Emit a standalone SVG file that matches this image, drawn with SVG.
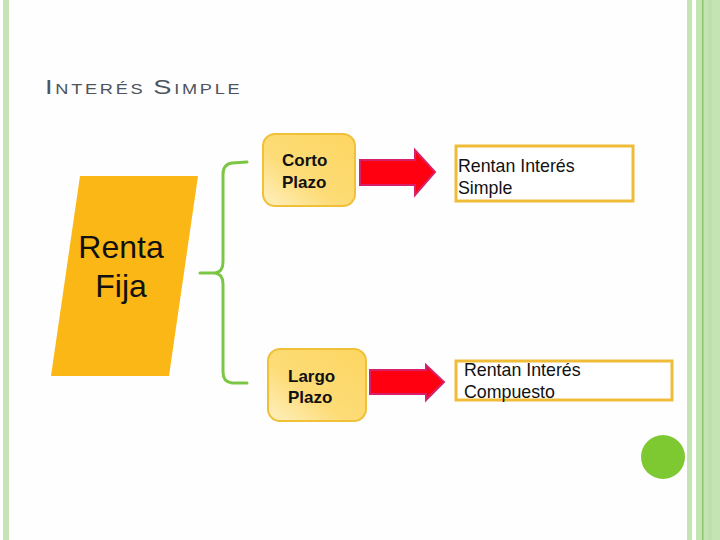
<svg xmlns="http://www.w3.org/2000/svg" width="720" height="540" viewBox="0 0 720 540">
<defs>
<linearGradient id="boxg" x1="1" y1="0" x2="0" y2="1">
<stop offset="0" stop-color="#fdd660"/>
<stop offset="0.6" stop-color="#fddc78"/>
<stop offset="1" stop-color="#fef0c0"/>
</linearGradient>
<style>
.plazo{fill:url(#boxg);stroke:#f0c038;stroke-width:2}
.pt{font-family:"Liberation Sans",Arial,sans-serif;font-weight:bold;font-size:17px;fill:#111}
.res{fill:#fff;stroke:#f0bc38;stroke-width:3}
.rt{font-family:"Liberation Sans",Arial,sans-serif;font-size:17.8px;fill:#111}
.arrow{fill:#ff0010;stroke:#d8206a;stroke-width:2;stroke-linejoin:miter}
.brace{fill:none;stroke:#7cc645;stroke-width:3;stroke-linecap:round;stroke-linejoin:round}
</style>
</defs>
<rect width="720" height="540" fill="#fefefe"/>
<g id="frame">
<rect x="3" y="0" width="6" height="540" fill="#c4e4b4"/>
<rect x="687" y="0" width="5" height="540" fill="#c4e4b4"/>
<rect x="696" y="0" width="24" height="540" fill="#c4e4b4"/>
<rect x="702" y="0" width="1.5" height="540" fill="#8cc66c"/>
<rect x="708" y="0" width="4" height="540" fill="#bde0ab"/>
<circle cx="663" cy="457" r="22" fill="#7ec832"/>
</g>
<text id="title" transform="translate(45,93.5) scale(1.3,1)" x="0" y="0" font-family="Liberation Sans,Arial,sans-serif" fill="#4d5460" letter-spacing="2.1"><tspan font-size="21">I</tspan><tspan font-size="14">NTERÉS </tspan><tspan font-size="21">S</tspan><tspan font-size="14">IMPLE</tspan></text>
<g id="renta-fija">
<polygon points="80,176 198,176 169,376 51,376" fill="#fbb715"/>
<text x="121" y="258" text-anchor="middle" font-family="Liberation Sans,Arial,sans-serif" font-size="32" fill="#111">Renta</text>
<text x="121" y="297" text-anchor="middle" font-family="Liberation Sans,Arial,sans-serif" font-size="32" fill="#111">Fija</text>
</g>
<g id="corto-plazo">
<rect class="plazo" x="263" y="134" width="92" height="72" rx="12"/>
<text class="pt" x="282" y="166">Corto</text>
<text class="pt" x="282" y="188">Plazo</text>
</g>
<g id="largo-plazo">
<rect class="plazo" x="268" y="349" width="98" height="72" rx="12"/>
<text class="pt" x="288" y="382">Largo</text>
<text class="pt" x="288" y="403">Plazo</text>
</g>
<g id="interes-simple">
<rect class="res" x="456" y="146" width="177" height="55"/>
<text class="rt" x="458" y="172">Rentan Interés</text>
<text class="rt" x="458" y="194">Simple</text>
</g>
<g id="interes-compuesto">
<rect class="res" x="456" y="361" width="216" height="39"/>
<text class="rt" x="464" y="376">Rentan Interés</text>
<text class="rt" x="464" y="398">Compuesto</text>
</g>
<g id="connectors">
<path class="brace" d="M247,162 L232,163 Q223,164 223,175 L223,262 Q223,272 215,273 L200,273 M215,273 Q223,274 223,284 L223,372 Q223,382 232,383 L247,383"/>
<path class="arrow" d="M360,160 L415,160 L415,150 L435,172 L415,195 L415,185 L360,185 Z"/>
<path class="arrow" d="M370,370 L426,370 L426,365 L444,382 L426,400 L426,394 L370,394 Z"/>
</g>
</svg>
